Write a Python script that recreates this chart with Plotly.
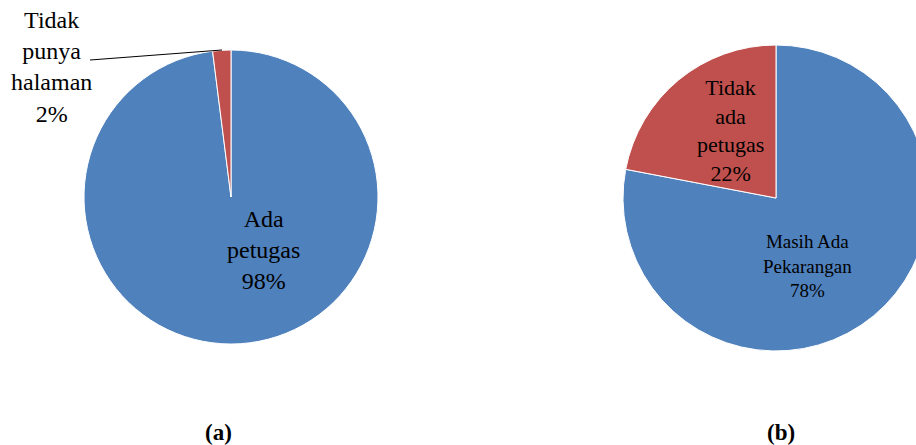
import plotly.graph_objects as go

# ---- data ----
labels_a = ["Ada petugas", "Tidak punya halaman"]
values_a = [98, 2]
text_a = ["Ada<br>petugas", "Tidak<br>punya<br>halaman"]

labels_b = ["Masih Ada Pekarangan", "Tidak ada petugas"]
values_b = [78, 22]
text_b = ["Masih Ada<br>Pekarangan", "Tidak<br>ada<br>petugas"]

colors = ["#4F81BD", "#C0504D"]
captions = ["(a)", "(b)"]

# ---- layout helpers ----
W, H = 940, 445   # page cropped to 916 wide by the window
FONT = "Liberation Serif"


def px(x):
    return x / W


def py(y):
    return 1 - y / H


def pct(vals):
    s = sum(vals)
    return [f"{round(v / s * 100)}%" for v in vals]


fig = go.Figure()

# pie (a): center (231,197), r 147
fig.add_trace(go.Pie(
    labels=labels_a, values=values_a, sort=False, direction="clockwise",
    rotation=0, textinfo="none", hoverinfo="label+percent",
    marker=dict(colors=colors, line=dict(color="white", width=1)),
    domain=dict(x=[px(84), px(378)], y=[py(344), py(50)]),
    showlegend=False,
))
# pie (b): center (776,198), r 153
fig.add_trace(go.Pie(
    labels=labels_b, values=values_b, sort=False, direction="clockwise",
    rotation=0, textinfo="none", hoverinfo="label+percent",
    marker=dict(colors=colors, line=dict(color="white", width=1)),
    domain=dict(x=[px(623), px(929)], y=[py(351), py(45)]),
    showlegend=False,
))

pa = pct(values_a)
pb = pct(values_b)
label_specs = [
    (text_a[1] + "<br>" + pa[1], 51, 67, 24),
    (text_a[0] + "<br>" + pa[0], 263, 250, 24),
    (text_b[1] + "<br>" + pb[1], 730, 131, 22),
    (text_b[0] + "<br>" + pb[0], 807, 266, 19),
]
annotations = []
for txt, x, y, size in label_specs:
    annotations.append(dict(
        text=txt, x=px(x), y=py(y), xref="paper", yref="paper",
        xanchor="center", yanchor="middle", showarrow=False, align="center",
        font=dict(family=FONT, size=size, color="black"),
    ))
for cap, x in zip(captions, [218, 781]):
    annotations.append(dict(
        text=f"<b>{cap}</b>", x=px(x), y=py(432), xref="paper", yref="paper",
        xanchor="center", yanchor="middle", showarrow=False,
        font=dict(family=FONT, size=23, color="black"),
    ))

fig.update_layout(
    width=W, height=H,
    margin=dict(l=0, r=0, t=0, b=0),
    paper_bgcolor="white", plot_bgcolor="white",
    font=dict(family=FONT),
    annotations=annotations,
    shapes=[dict(type="line", xref="paper", yref="paper",
                 x0=px(90), y0=py(60), x1=px(222), y1=py(50),
                 line=dict(color="black", width=1))],
)

fig.write_html(
    "out.html",
    post_script="document.documentElement.style.overflow='hidden';document.body.style.overflow='hidden';document.body.style.margin='0';",
)
